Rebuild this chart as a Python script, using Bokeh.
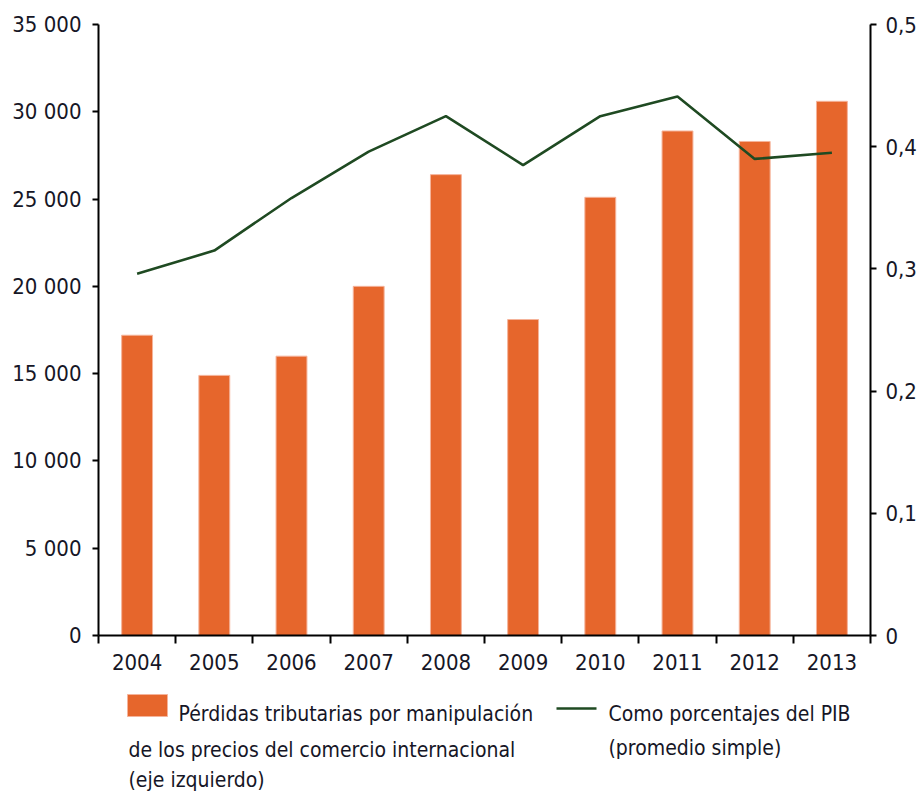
from bokeh.plotting import figure
from bokeh.models import Range1d, LinearAxis, FixedTicker, CustomJSTickFormatter, ColumnDataSource
from bokeh.layouts import column
from bokeh.core.properties import value
from bokeh.embed import file_html
from bokeh.resources import INLINE

# ---- data ----
years = ["2004", "2005", "2006", "2007", "2008", "2009", "2010", "2011", "2012", "2013"]
perdidas = [17200, 14900, 16000, 20000, 26400, 18100, 25100, 28900, 28300, 30600]
pct_pib = [0.296, 0.315, 0.358, 0.396, 0.425, 0.385, 0.425, 0.441, 0.390, 0.395]
left_ticks = [0, 5000, 10000, 15000, 20000, 25000, 30000, 35000]
right_ticks = [0, 0.1, 0.2, 0.3, 0.4, 0.5]
legend_bar = ["Pérdidas tributarias por manipulación",
              "de los precios del comercio internacional",
              "(eje izquierdo)"]
legend_line = ["Como porcentajes del PIB", "(promedio simple)"]

FONT = "DejaVu Sans Condensed"
TXT = "#161626"
BAR = "#E6662C"
BAR_EDGE = "#F5B39A"
LINE = "#1F4A22"
FS = "22px"
LFS = "21px"

W = 920
H1 = 688
H2 = 103
BL, BR = 98, 50

idx = list(range(len(years)))
src = ColumnDataSource(dict(x=idx, perdidas=perdidas, pct=pct_pib))

p = figure(width=W, height=H1, x_range=Range1d(-0.5, len(years) - 0.5),
           y_range=Range1d(0, 35000), output_backend="svg", toolbar_location=None,
           min_border_left=BL, min_border_right=BR, min_border_top=24, min_border_bottom=53)
p.outline_line_color = None
p.grid.visible = False

p.vbar(x="x", top="perdidas", width=0.4, source=src, fill_color=BAR,
       line_color=BAR_EDGE, line_width=1)

p.extra_y_ranges = {"pct": Range1d(0, 0.5)}
p.line(x="x", y="pct", source=src, y_range_name="pct", line_color=LINE, line_width=2.6)

# x axis
xa = p.xaxis[0]
xa.ticker = FixedTicker(ticks=idx, minor_ticks=[i - 0.5 for i in range(len(years) + 1)])
xa.major_label_overrides = {i: y for i, y in zip(idx, years)}
xa.major_tick_out = 0
xa.major_tick_in = 0
xa.minor_tick_out = 8
xa.minor_tick_in = 0
xa.minor_tick_line_color = "black"
xa.minor_tick_line_width = 2
xa.axis_line_color = "black"
xa.axis_line_width = 2
xa.major_label_standoff = 10
xa.major_label_text_font = FONT
xa.major_label_text_font_size = FS
xa.major_label_text_color = TXT

# left axis
ya = p.yaxis[0]
ya.ticker = FixedTicker(ticks=left_ticks)
ya.formatter = CustomJSTickFormatter(
    code="return Math.round(tick).toString().replace(/\\B(?=(\\d{3})+(?!\\d))/g, ' ');")
ya.major_tick_out = 6
ya.major_tick_in = 0
ya.minor_tick_out = 0
ya.minor_tick_in = 0
ya.major_tick_line_width = 2
ya.axis_line_width = 2
ya.axis_line_color = "black"
ya.major_label_standoff = 11
ya.major_label_text_font = FONT
ya.major_label_text_font_size = FS
ya.major_label_text_color = TXT

# right axis
ra = LinearAxis(y_range_name="pct", ticker=FixedTicker(ticks=right_ticks),
                formatter=CustomJSTickFormatter(
                    code="return tick === 0 ? '0' : tick.toFixed(1).replace('.', ',');"))
ra.major_tick_out = 6
ra.major_tick_in = 0
ra.minor_tick_out = 0
ra.minor_tick_in = 0
ra.major_tick_line_width = 2
ra.axis_line_width = 2
ra.axis_line_color = "black"
ra.major_label_standoff = 9
ra.major_label_text_font = FONT
ra.major_label_text_font_size = FS
ra.major_label_text_color = TXT
p.add_layout(ra, "right")

# ---- legend (pixel coordinates) ----
lg = figure(width=W, height=H2, x_range=Range1d(BL, W - BR), y_range=Range1d(H2, 0),
            output_backend="svg", toolbar_location=None,
            min_border_left=BL, min_border_right=BR, min_border_top=0, min_border_bottom=0,
            x_axis_location=None, y_axis_location=None)
lg.outline_line_color = None
lg.grid.visible = False

lg.quad(left=[127], right=[167], top=[6], bottom=[28], fill_color=BAR, line_color=BAR_EDGE, line_width=1)
lg.text(x=[178, 128, 128], y=[25, 61, 91], text=legend_bar, text_font=value(FONT),
        text_font_size=LFS, text_color=TXT, text_baseline="alphabetic")

lg.line(x=[556, 596], y=[20, 20], line_color=LINE, line_width=2.6)
lg.text(x=[608, 608], y=[25, 59], text=legend_line, text_font=value(FONT),
        text_font_size=LFS, text_color=TXT, text_baseline="alphabetic")

layout = column(p, lg, spacing=0)
open("out.html", "w").write(file_html(layout, INLINE))
